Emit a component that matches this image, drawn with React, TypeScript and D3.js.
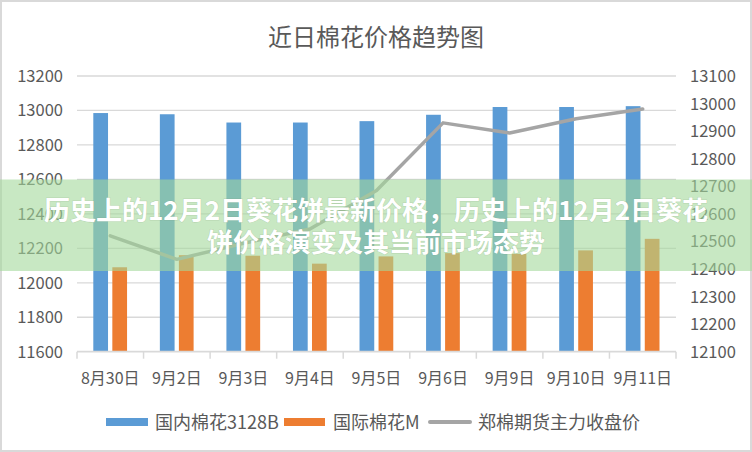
import * as d3 from "d3";

const categories = ["8月30日", "9月2日", "9月3日", "9月4日", "9月5日", "9月6日", "9月9日", "9月10日", "9月11日"];
const domestic = [12985, 12978, 12930, 12930, 12938, 12975, 13020, 13020, 13025];
const international = [12090, 12160, 12157, 12111, 12153, 12172, 12168, 12188, 12255];
const futures = [12520, 12435, 12493, 12545, 12685, 12930, 12893, 12945, 12980];

const leftTicks = [11600, 11800, 12000, 12200, 12400, 12600, 12800, 13000, 13200];
const rightTicks = [12100, 12200, 12300, 12400, 12500, 12600, 12700, 12800, 12900, 13000, 13100];

const seriesNames = ["国内棉花3128B", "国际棉花M", "郑棉期货主力收盘价"];
const title = "近日棉花价格趋势图";
const bannerLines = [
  "历史上的12月2日葵花饼最新价格，历史上的12月2日葵花",
  "饼价格演变及其当前市场态势",
];

const W = 752;
const H = 452;
const margin = { top: 76, right: 76, bottom: 100, left: 77 };
const BLUE = "#5b9bd5";
const ORANGE = "#ed7d31";
const GRAY = "#a5a5a5";
const TEXT = "#595959";
const GRID = "#d9d9d9";
const FONT = "'Noto Sans CJK SC', 'Noto Sans', sans-serif";

export default function App() {
  const plotBottom = H - margin.bottom - 0.3;
  const x = d3
    .scaleBand()
    .domain(categories)
    .range([margin.left, W - margin.right])
    .padding(0);
  const bw = x.bandwidth();
  const inner = d3
    .scaleBand()
    .domain(["d", "i"])
    .range([bw * 0.245, bw * 0.752])
    .paddingInner(0.226);

  const yLeft = d3.scaleLinear().domain([11600, 13200]).range([plotBottom, margin.top]);
  const yRight = d3.scaleLinear().domain([12100, 13100]).range([plotBottom, margin.top]);

  const line = d3
    .line<number>()
    .x((_, i) => (x(categories[i]) ?? 0) + bw / 2)
    .y((d) => yRight(d));

  const bannerTop = 179.5;
  const bannerBottom = 271;

  return (
    <div style={{ position: "fixed", left: 0, top: 0 }}>
      <svg width={W} height={H} style={{ display: "block", background: "#fff" }} fontFamily={FONT}>
        <rect x={1} y={1} width={W - 2} height={H - 2} fill="#fff" stroke={GRID} strokeWidth={2} />

        <text x={W / 2} y={46} textAnchor="middle" fontSize={24} fill={TEXT}>
          {title}
        </text>

        {/* gridlines */}
        {leftTicks.slice(1).map((t) => (
          <line key={t} x1={margin.left} x2={W - margin.right} y1={yLeft(t)} y2={yLeft(t)} stroke={GRID} strokeWidth={1.3} />
        ))}

        {/* left labels */}
        {leftTicks.map((t) => (
          <text key={t} x={63} y={yLeft(t)} dy="0.36em" textAnchor="end" fontSize={16.5} fill={TEXT}>
            {t}
          </text>
        ))}
        {rightTicks.map((t) => (
          <text key={t} x={690} y={yRight(t)} dy="0.36em" textAnchor="start" fontSize={16.5} fill={TEXT}>
            {t}
          </text>
        ))}

        {/* bars */}
        {categories.map((c, i) => (
          <g key={c} transform={`translate(${x(c)},0)`}>
            <rect
              x={inner("d")}
              y={yLeft(domestic[i])}
              width={inner.bandwidth()}
              height={plotBottom - yLeft(domestic[i])}
              fill={BLUE}
            />
            <rect
              x={inner("i")}
              y={yLeft(international[i])}
              width={inner.bandwidth()}
              height={plotBottom - yLeft(international[i])}
              fill={ORANGE}
            />
          </g>
        ))}

        {/* x axis */}
        <line x1={margin.left} x2={W - margin.right} y1={plotBottom} y2={plotBottom} stroke={GRID} strokeWidth={1.8} />
        {[...categories.map((c) => x(c) ?? 0), W - margin.right].map((px, i) => (
          <line key={i} x1={px} x2={px} y1={plotBottom} y2={plotBottom + 7} stroke={GRID} strokeWidth={1.5} />
        ))}
        {categories.map((c) => (
          <text key={c} x={(x(c) ?? 0) + bw / 2} y={384} textAnchor="middle" fontSize={16} fill={TEXT}>
            {c}
          </text>
        ))}

        {/* futures line */}
        <path d={line(futures) ?? ""} fill="none" stroke={GRAY} strokeWidth={3.5} strokeLinejoin="round" strokeLinecap="round" />

        {/* legend */}
        <g fontSize={18} fill={TEXT}>
          <rect x={106} y={418} width={42} height={8} fill={BLUE} />
          <text x={155} y={428.5}>{seriesNames[0]}</text>
          <rect x={284} y={418} width={41} height={8} fill={ORANGE} />
          <text x={333} y={428.5}>{seriesNames[1]}</text>
          <line x1={430} x2={470} y1={422} y2={422} stroke={GRAY} strokeWidth={4} strokeLinecap="round" />
          <text x={478} y={428.5}>{seriesNames[2]}</text>
        </g>

        {/* overlay banner */}
        <rect x={0} y={bannerTop} width={W} height={bannerBottom - bannerTop} fill="rgb(163,217,155)" fillOpacity={0.6} />
        {bannerLines.map((t, i) => (
          <text
            key={i}
            x={W / 2}
            y={220 + i * 32}
            textAnchor="middle"
            fontSize={26}
            fontWeight={700}
            fill="#fff"
            style={{ paintOrder: "stroke" }}
            stroke="rgba(120,150,110,0.25)"
            strokeWidth={1}
          >
            {t}
          </text>
        ))}
      </svg>
    </div>
  );
}
